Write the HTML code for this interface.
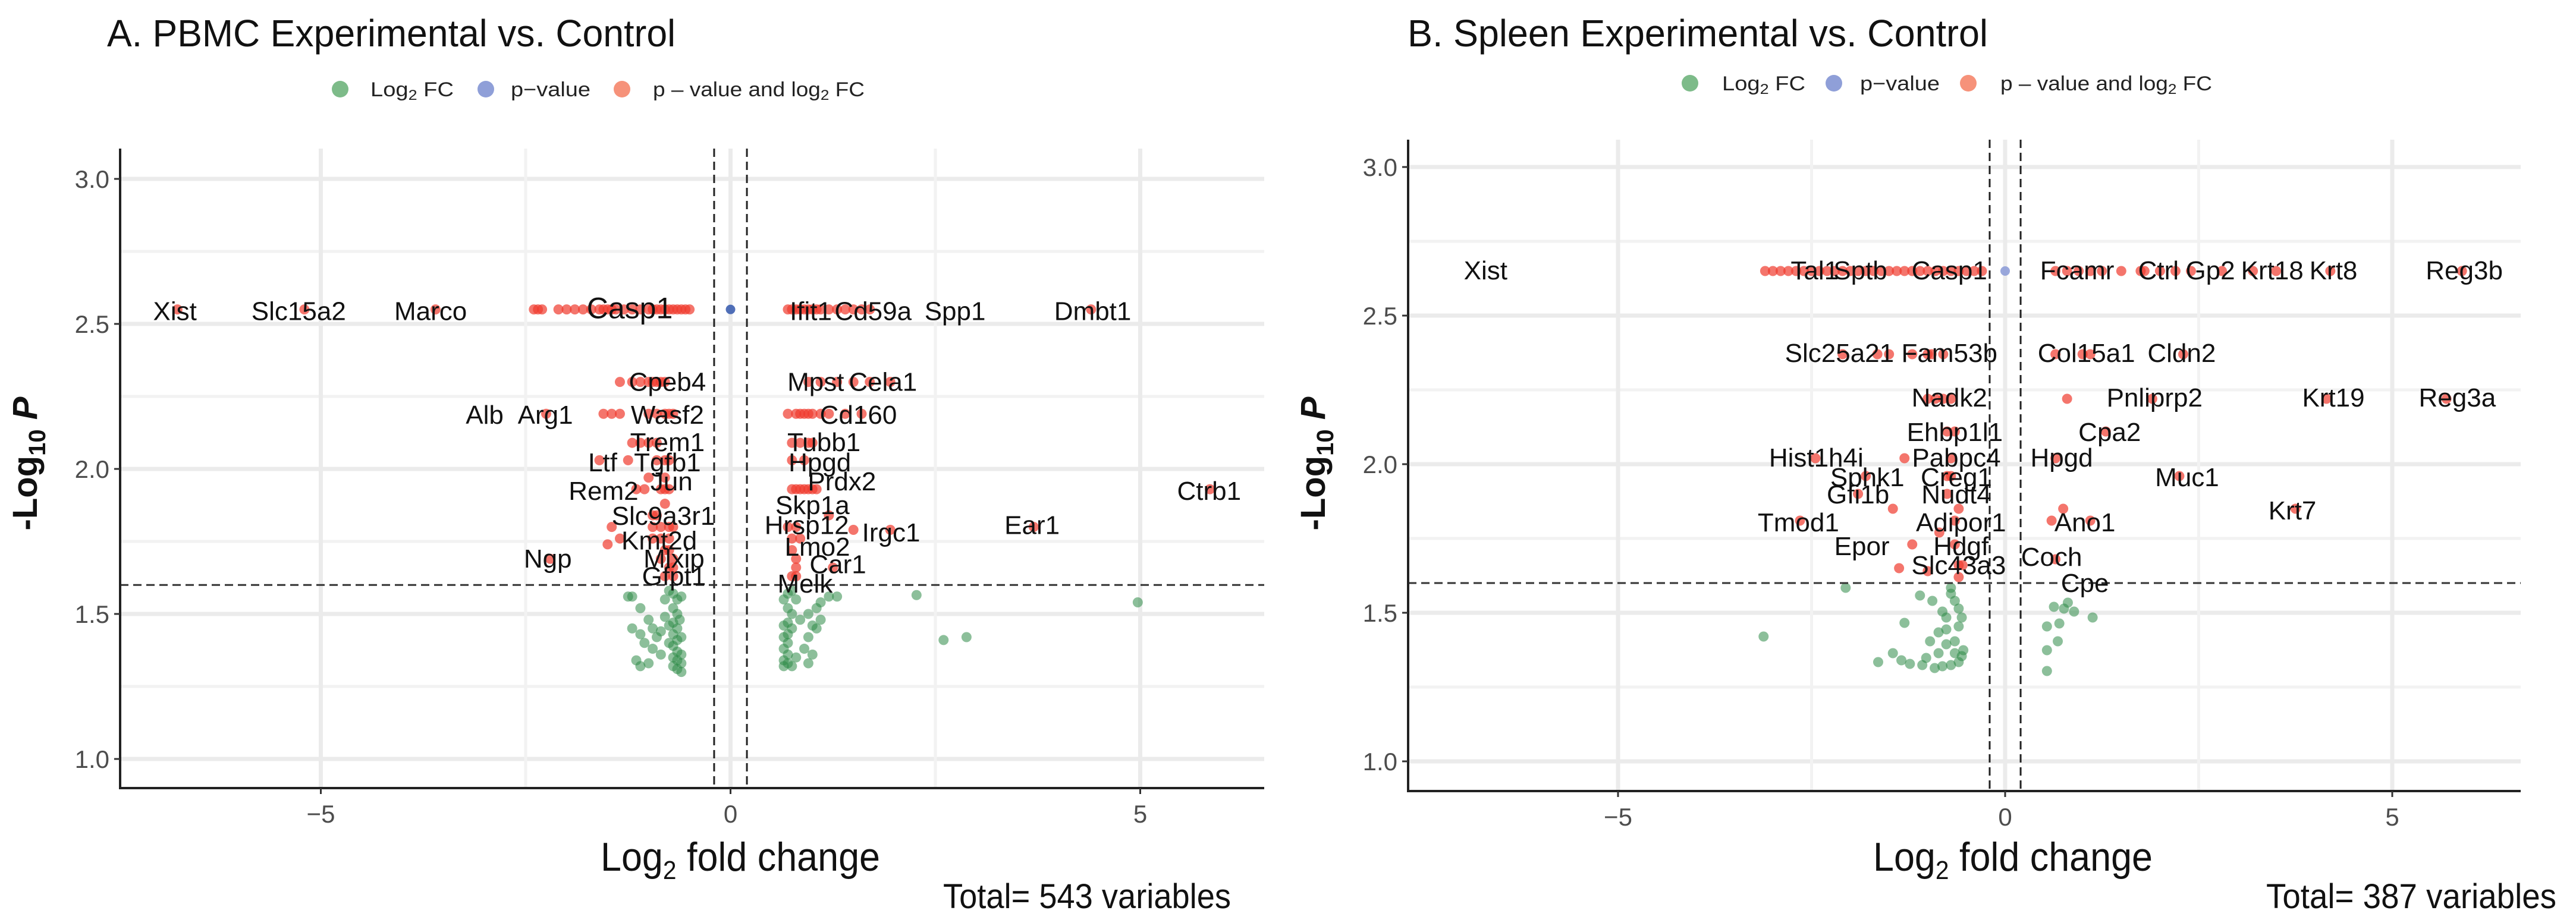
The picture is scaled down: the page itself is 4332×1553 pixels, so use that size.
<!DOCTYPE html>
<html><head><meta charset="utf-8"><title>Volcano plots</title>
<style>
html,body{margin:0;padding:0;background:#fff;}
svg{display:block;}
text{font-family:"Liberation Sans",sans-serif;}
</style></head>
<body>
<svg id="fig" width="4332" height="1553" viewBox="0 0 4332 1553" xmlns="http://www.w3.org/2000/svg">
<rect x="0" y="0" width="4332" height="1553" fill="#fff"/>
<g id="panelA"></g>
<g id="panelB"></g>
</svg>
<script>
// ---------- data: panel A (PBMC) ----------
const aXTicks = [-5, 0, 5];
const aYTicks = [1.0, 1.5, 2.0, 2.5, 3.0];
const aYTickLabels = ["1.0", "1.5", "2.0", "2.5", "3.0"];
const aXTickLabels = ["\u22125", "0", "5"];
const aFcCut = 0.2;
const aPCut = 1.6;
const aBlue = [[0.0, 2.55]];
const aRed = [
[-6.75,2.55],[-5.2,2.55],[-3.6,2.55],[-2.4,2.55],[-2.35,2.55],[-2.3,2.55],[-2.1,2.55],[-2.0,2.55],[-1.9,2.55],[-1.8,2.55],[-1.7,2.55],[-1.6,2.55],[-1.55,2.55],[-1.5,2.55],[-1.45,2.55],[-1.4,2.55],[-1.3,2.55],[-1.2,2.55],[-1.1,2.55],[-1.0,2.55],[-0.95,2.55],[-0.9,2.55],[-0.85,2.55],[-0.8,2.55],[-0.75,2.55],[-0.7,2.55],[-0.65,2.55],[-0.6,2.55],[-0.55,2.55],[-0.5,2.55],
[0.7,2.55],[0.75,2.55],[0.8,2.55],[0.85,2.55],[0.9,2.55],[0.95,2.55],[1.0,2.55],[1.05,2.55],[1.1,2.55],[1.2,2.55],[1.3,2.55],[1.4,2.55],[1.5,2.55],[1.6,2.55],[1.7,2.55],[4.4,2.55],
[-1.35,2.30],[-1.2,2.30],[-1.1,2.30],[-1.0,2.30],[-0.95,2.30],[-0.9,2.30],[-0.85,2.30],[-0.8,2.30],[0.95,2.30],[1.1,2.30],[1.3,2.30],[1.5,2.30],[1.7,2.30],[1.95,2.30],
[-2.25,2.19],[-1.55,2.19],[-1.45,2.19],[-1.35,2.19],[-1.0,2.19],[-0.9,2.19],[-0.8,2.19],[-0.75,2.19],[-0.7,2.19],[0.7,2.19],[0.8,2.19],[0.85,2.19],[0.9,2.19],[0.95,2.19],[1.0,2.19],[1.1,2.19],[1.2,2.19],[1.4,2.19],[1.6,2.19],
[-1.2,2.09],[-1.1,2.09],[-1.0,2.09],[-0.9,2.09],[0.75,2.09],[0.85,2.09],[0.95,2.09],[1.0,2.09],
[-1.6,2.03],[-1.25,2.03],[-0.9,2.03],[-0.8,2.03],[-0.75,2.03],[0.75,2.03],[0.9,2.03],
[-1.0,1.97],[-0.8,1.97],[-1.15,1.93],[-1.05,1.93],[-0.85,1.93],[-0.8,1.93],[-0.75,1.93],[0.75,1.93],[0.8,1.93],[0.85,1.93],[0.9,1.93],[0.95,1.93],[1.0,1.93],[1.05,1.93],[5.85,1.93],
[-0.8,1.88],[-0.95,1.84],[-0.9,1.84],[1.2,1.84],
[-1.45,1.80],[-0.95,1.80],[-0.85,1.80],[-0.75,1.80],[-0.7,1.80],[0.7,1.80],[0.8,1.80],[1.5,1.79],[1.95,1.79],[3.7,1.80],
[-1.35,1.76],[-0.95,1.76],[-0.85,1.76],[-0.75,1.76],[0.75,1.76],[0.85,1.76],[-1.5,1.74],
[-0.8,1.72],[-0.75,1.72],[0.75,1.72],[-2.2,1.69],[-0.85,1.69],[-0.7,1.69],[0.8,1.69],
[-0.75,1.66],[-0.7,1.66],[0.8,1.66],[1.25,1.66],[-0.8,1.63],[-0.7,1.63],[0.75,1.63],[0.8,1.63]
];
const aGreen = [
[-1.25,1.56],[-1.2,1.56],[-1.1,1.52],[-1.2,1.45],[-1.1,1.43],[-1.0,1.48],[-1.05,1.40],[-0.95,1.38],[-1.15,1.34],[-1.1,1.32],[-1.0,1.33],[-0.85,1.36],[-0.9,1.42],[-0.8,1.55],[-0.75,1.58],[-0.7,1.57],[-0.65,1.55],[-0.7,1.52],[-0.65,1.50],[-0.7,1.47],[-0.65,1.45],[-0.7,1.43],[-0.65,1.41],[-0.7,1.39],[-0.65,1.37],[-0.7,1.35],[-0.65,1.34],[-0.6,1.33],[-0.7,1.32],[-0.65,1.31],[-0.6,1.30],[-0.75,1.46],[-0.8,1.49],[-0.85,1.44],[-0.75,1.40],[-0.6,1.56],[-0.62,1.48],[-0.6,1.42],[-0.6,1.36],[-0.95,1.45],
[0.65,1.55],[0.7,1.57],[0.75,1.58],[0.8,1.55],[0.7,1.52],[0.75,1.50],[0.7,1.47],[0.65,1.46],[0.75,1.45],[0.7,1.43],[0.65,1.42],[0.7,1.40],[0.65,1.38],[0.7,1.36],[0.65,1.34],[0.7,1.33],[0.75,1.32],[0.65,1.32],[0.8,1.35],[0.95,1.33],[1.0,1.36],[0.9,1.38],[0.95,1.42],[1.05,1.45],[1.1,1.48],[1.05,1.52],[1.2,1.56],[1.1,1.54],[1.3,1.56],[0.95,1.50],[0.85,1.48],[1.0,1.46],
[2.27,1.565],[2.6,1.41],[2.88,1.42],[4.97,1.54]
];
const aLabelText = ["Xist","Slc15a2","Marco","Casp1","Ifit1","Cd59a","Spp1","Dmbt1","Cpeb4","Mpst","Cela1","Alb","Arg1","Wasf2","Cd160","Trem1","Tubb1","Ltf","Tgfb1","Hpgd","Jun","Prdx2","Rem2","Ctrb1","Skp1a","Slc9a3r1","Hrsp12","Irgc1","Ear1","Kmt2d","Lmo2","Ngp","Mlxip","Car1","Gfpt1","Melk"];
const aLabelX = [-6.78,-5.27,-3.66,-1.23,0.98,1.74,2.74,4.42,-0.77,1.04,1.86,-3.0,-2.26,-0.77,1.56,-0.77,1.14,-1.56,-0.77,1.09,-0.72,1.36,-1.55,5.84,1.0,-0.82,0.93,1.96,3.68,-0.87,1.06,-2.23,-0.69,1.31,-0.69,0.91];
const aLabelY = [2.544,2.544,2.544,2.55,2.544,2.544,2.544,2.544,2.30,2.30,2.30,2.186,2.186,2.186,2.186,2.092,2.092,2.023,2.023,2.023,1.957,1.957,1.924,1.924,1.875,1.838,1.806,1.781,1.806,1.753,1.732,1.691,1.691,1.671,1.63,1.605];

// ---------- data: panel B (Spleen) ----------
const bXTicks = [-5, 0, 5];
const bYTicks = [1.0, 1.5, 2.0, 2.5, 3.0];
const bYTickLabels = ["1.0", "1.5", "2.0", "2.5", "3.0"];
const bXTickLabels = ["\u22125", "0", "5"];
const bFcCut = 0.2;
const bPCut = 1.6;
const bBlue = [[0.0, 2.65]];
const bRed = [
[-3.1,2.65],[-3.0,2.65],[-2.9,2.65],[-2.8,2.65],[-2.7,2.65],[-2.6,2.65],[-2.5,2.65],[-2.4,2.65],[-2.3,2.65],[-2.2,2.65],[-2.1,2.65],[-2.0,2.65],[-1.9,2.65],[-1.8,2.65],[-1.7,2.65],[-1.6,2.65],[-1.5,2.65],[-1.4,2.65],[-1.3,2.65],[-1.2,2.65],[-1.1,2.65],[-1.0,2.65],[-0.9,2.65],[-0.8,2.65],[-0.7,2.65],[-0.6,2.65],[-0.5,2.65],[-0.4,2.65],[-0.3,2.65],
[0.65,2.65],[0.8,2.65],[0.95,2.65],[1.1,2.65],[1.25,2.65],[1.5,2.65],[1.75,2.65],[1.8,2.65],[2.0,2.65],[2.2,2.65],[2.4,2.65],[2.8,2.65],[3.2,2.65],[3.5,2.65],[4.2,2.65],[5.9,2.65],
[-2.1,2.37],[-1.65,2.37],[-1.5,2.37],[-1.2,2.37],[-1.0,2.37],[-0.95,2.37],[-0.8,2.37],[0.65,2.37],[1.0,2.37],[1.1,2.37],[2.3,2.37],
[-1.0,2.22],[-0.9,2.22],[-0.8,2.22],[-0.7,2.22],[0.8,2.22],[1.9,2.22],[4.15,2.22],[5.7,2.22],
[-0.75,2.11],[-0.65,2.11],[1.3,2.11],
[-2.45,2.02],[-1.3,2.02],[-0.7,2.02],[0.65,2.02],
[-1.8,1.96],[-0.75,1.96],[-0.7,1.96],[2.25,1.96],
[-1.9,1.90],[-0.75,1.90],
[-1.45,1.85],[-0.6,1.85],[0.75,1.85],[3.75,1.85],
[-2.65,1.81],[-0.65,1.81],[0.6,1.81],[1.1,1.81],[-0.85,1.77],
[-1.2,1.73],[-0.65,1.73],[0.65,1.68],
[-1.37,1.65],[-0.55,1.66],[-0.6,1.66],[-1.0,1.64],[-0.6,1.62]
];
const bGreen = [
[-2.06,1.584],[-3.12,1.42],[-1.10,1.558],[-0.94,1.54],[-1.30,1.466],[-0.70,1.584],[-0.70,1.564],[-0.65,1.54],[-0.60,1.514],[-0.56,1.484],[-0.60,1.454],[-0.76,1.444],[-0.86,1.434],[-0.81,1.504],[-0.76,1.394],[-0.97,1.404],[-0.86,1.364],[-1.02,1.348],[-0.65,1.364],[-0.56,1.354],[-0.60,1.334],[-0.70,1.324],[-0.81,1.32],[-0.91,1.314],[-1.07,1.324],[-1.23,1.328],[-1.34,1.34],[-1.45,1.364],[-1.64,1.334],[-0.65,1.404],[-0.54,1.374],[-0.76,1.484],
[0.54,1.304],[0.54,1.374],[0.68,1.404],[0.54,1.454],[0.70,1.464],[0.63,1.52],[0.81,1.534],[0.89,1.504],[0.76,1.514],[1.13,1.484]
];
const bLabelText = ["Xist","Tal1","Sptb","Casp1","Fcamr","Ctrl","Gp2","Krt18","Krt8","Reg3b","Slc25a21","Fam53b","Col15a1","Cldn2","Nadk2","Pnliprp2","Krt19","Reg3a","Ehbp1l1","Cpa2","Hist1h4i","Pabpc4","Hpgd","Sphk1","Creg1","Muc1","Gfi1b","Nudt4","Krt7","Tmod1","Adipor1","Ano1","Epor","Hdgf","Coch","Slc43a3","Cpe"];
const bLabelX = [-6.71,-2.46,-1.87,-0.72,0.93,1.98,2.65,3.45,4.24,5.93,-2.14,-0.72,1.05,2.28,-0.72,1.93,4.24,5.84,-0.65,1.35,-2.44,-0.63,0.73,-1.78,-0.63,2.35,-1.90,-0.63,3.71,-2.67,-0.57,1.03,-1.85,-0.57,0.60,-0.60,1.03];
const bLabelY = [2.652,2.652,2.652,2.652,2.652,2.652,2.652,2.652,2.652,2.652,2.374,2.374,2.374,2.374,2.224,2.224,2.224,2.224,2.108,2.108,2.022,2.022,2.022,1.956,1.956,1.956,1.898,1.898,1.844,1.804,1.804,1.804,1.724,1.724,1.688,1.66,1.60];

const NS = "http://www.w3.org/2000/svg";
function mk(parent, tag, attrs, txt){
  const e = document.createElementNS(NS, tag);
  for (const k in attrs) e.setAttribute(k, attrs[k]);
  if (txt !== undefined) e.textContent = txt;
  parent.appendChild(e);
  return e;
}

function drawPanel(g, L, D){
  const sx = v => L.x0 + v * L.xs;
  const sy = v => L.y1 - (v - 1) * L.ys;
  const t = mk(g, "text", {x:L.titleX, y:78, "font-size":64, textLength:L.titleW, lengthAdjust:"spacingAndGlyphs", fill:"#111"}, L.title);
  
  
  const lg = mk(g, "g", {});
  
  
  const leg = [["#7dbb89", "Log", "2", " FC", L.lg[0], L.lg[1], 140],
               ["#8f9fd8", "p\u2212value", "", "", L.lg[2], L.lg[3], 134],
               ["#f6927a", "p \u2013 value and log", "2", " FC", L.lg[4], L.lg[5], 356]];
  leg.forEach(e => {
    const c = mk(lg, "circle", {cx:e[4], cy:L.legY, r:14, fill:e[0]});
    
    
    const tx = mk(lg, "text", {x:e[5], y:L.legY+12, "font-size":34, fill:"#222", textLength:e[6], lengthAdjust:"spacingAndGlyphs"});
    
    
    mk(tx, "tspan", {}, e[1]);
    if (e[2]) { mk(tx, "tspan", {"font-size":24, dy:6}, e[2]); mk(tx, "tspan", {dy:-6}, e[3]); }
  });
  const grid = mk(g, "g", {});
  
  
  for (let i = 0; i < D.yTicks.length; i++) {
    const v = D.yTicks[i];
    mk(grid, "line", {x1:L.left, x2:L.right, y1:sy(v), y2:sy(v), stroke:"#ebebeb", "stroke-width":7});
    if (i < D.yTicks.length - 1) {
      const m = (v + D.yTicks[i+1]) / 2;
      mk(grid, "line", {x1:L.left, x2:L.right, y1:sy(m), y2:sy(m), stroke:"#f2f2f2", "stroke-width":5});
    }
  }
  for (let i = 0; i < D.xTicks.length; i++) {
    const v = D.xTicks[i];
    mk(grid, "line", {x1:sx(v), x2:sx(v), y1:L.top, y2:L.bottom, stroke:"#ebebeb", "stroke-width":7});
    if (i < D.xTicks.length - 1) {
      const m = (v + D.xTicks[i+1]) / 2;
      mk(grid, "line", {x1:sx(m), x2:sx(m), y1:L.top, y2:L.bottom, stroke:"#f2f2f2", "stroke-width":5});
    }
  }
  const pts = mk(g, "g", {});
  
  
  D.green.forEach(p => {
    const c = mk(pts, "circle", {cx:sx(p[0]), cy:sy(p[1]), r:8.5, fill:"#2e8b47", "fill-opacity":0.55});
    
    
  });
  D.blue.forEach(p => {
    const c = mk(pts, "circle", {cx:sx(p[0]), cy:sy(p[1]), r:8, fill:L.blueCol, "fill-opacity":0.9});
    
    
  });
  D.red.forEach(p => {
    const c = mk(pts, "circle", {cx:sx(p[0]), cy:sy(p[1]), r:8.5, fill:"#f03a2e", "fill-opacity":0.7});
    
    
  });
  [-D.fc, D.fc].forEach(v => {
    const l = mk(g, "line", {x1:sx(v), x2:sx(v), y1:L.top, y2:L.bottom, stroke:"#222", "stroke-width":3, "stroke-dasharray":"14,8"});
    
    
  });
  const hl = mk(g, "line", {x1:L.left, x2:L.right, y1:sy(D.p), y2:sy(D.p), stroke:"#333", "stroke-width":3, "stroke-dasharray":"14,8"});
  
  
  const lb = mk(g, "g", {});
  
  
  for (let i = 0; i < D.lText.length; i++) {
    const big = D.lText[i] === "Casp1" && L.id === "A";
    const tx = mk(lb, "text", {x:sx(D.lX[i]), y:sy(D.lY[i]) + 15, "font-size":big ? 50 : 44, "text-anchor":"middle", fill:"#111"}, D.lText[i]);
    
    
  }
  const ax = mk(g, "path", {d:`M${L.left},${L.top} L${L.left},${L.bottom} L${L.right},${L.bottom}`, fill:"none", stroke:"#222", "stroke-width":4});
  
  
  for (let i = 0; i < D.yTicks.length; i++) {
    const y = sy(D.yTicks[i]);
    mk(g, "line", {x1:L.left-10, x2:L.left, y1:y, y2:y, stroke:"#333", "stroke-width":3});
    const tx = mk(g, "text", {x:L.left-18, y:y+15, "font-size":42, "text-anchor":"end", fill:"#4d4d4d"}, D.yTickLabels[i]);
    
    
  }
  for (let i = 0; i < D.xTicks.length; i++) {
    const x = sx(D.xTicks[i]);
    mk(g, "line", {x1:x, x2:x, y1:L.bottom, y2:L.bottom+10, stroke:"#333", "stroke-width":3});
    const tx = mk(g, "text", {x:x, y:L.bottom+58, "font-size":42, "text-anchor":"middle", fill:"#4d4d4d"}, D.xTickLabels[i]);
    
    
  }
  const xt = mk(g, "text", {x:L.xTitleX, y:1465, "font-size":68, fill:"#111", textLength:470, lengthAdjust:"spacingAndGlyphs"});
  
  
  mk(xt, "tspan", {}, "Log");
  mk(xt, "tspan", {"font-size":44, dy:14}, "2");
  mk(xt, "tspan", {dy:-14}, " fold change");
  const yt = mk(g, "text", {transform:`translate(${L.left-140},${L.yTitleY}) rotate(-90)`, "font-size":58, "font-weight":"bold", fill:"#111", "text-anchor":"middle"});
  
  
  mk(yt, "tspan", {}, "-Log");
  mk(yt, "tspan", {"font-size":40, dy:14}, "10");
  mk(yt, "tspan", {dy:-14, "font-style":"italic"}, " P");
  const tot = mk(g, "text", {x:L.totX, y:1528, "font-size":58, fill:"#111", textLength:L.totW, lengthAdjust:"spacingAndGlyphs"}, L.total);
  
  
}

drawPanel(document.getElementById("panelA"),
  {id:"A", x0:1228.5, xs:137.8, y1:1277, ys:488, left:202, right:2126, top:250, bottom:1326,
   title:"A. PBMC Experimental vs. Control", titleX:180, titleW:956, legY:150, lg:[572,623,817,859,1046,1098],
   blueCol:"#3d5fb0", xTitleX:1010, yTitleY:780, total:"Total= 543 variables", totX:1586, totW:484},
  {xTicks:aXTicks, yTicks:aYTicks, yTickLabels:aYTickLabels, xTickLabels:aXTickLabels, fc:aFcCut, p:aPCut,
   green:aGreen, blue:aBlue, red:aRed, lText:aLabelText, lX:aLabelX, lY:aLabelY});

drawPanel(document.getElementById("panelB"),
  {id:"B", x0:3372, xs:130.2, y1:1281, ys:500, left:2368, right:4239, top:235, bottom:1331,
   title:"B. Spleen Experimental vs. Control", titleX:2367, titleW:976, legY:140, lg:[2842,2896,3084,3128,3310,3364],
   blueCol:"#8f9fd8", xTitleX:3150, yTitleY:780, total:"Total= 387 variables", totX:3811, totW:488},
  {xTicks:bXTicks, yTicks:bYTicks, yTickLabels:bYTickLabels, xTickLabels:bXTickLabels, fc:bFcCut, p:bPCut,
   green:bGreen, blue:bBlue, red:bRed, lText:bLabelText, lX:bLabelX, lY:bLabelY});
</script>
</body></html>
